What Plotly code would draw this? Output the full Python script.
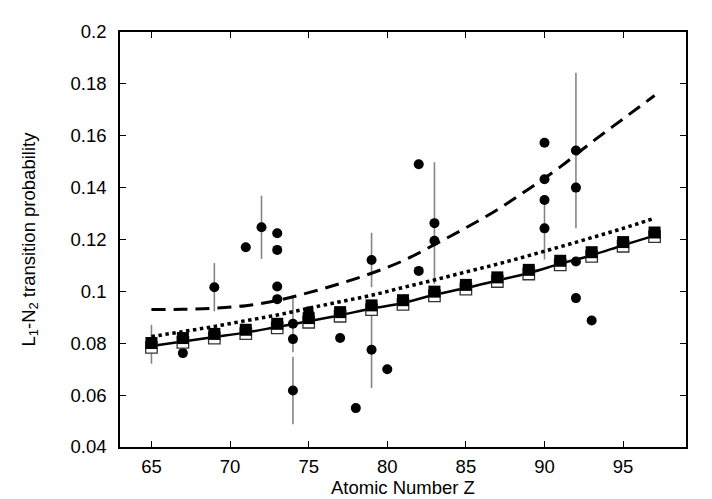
import plotly.graph_objects as go

# Experimental data (filled circles with error bars)
exp_z = [65, 67, 69, 71, 72, 73, 73, 73, 73, 74, 74, 74, 75, 77, 78, 79, 79, 80,
         82, 82, 83, 83, 90, 90, 90, 90, 92, 92, 92, 92, 93]
exp_y = [0.0796, 0.0762, 0.1016, 0.1170, 0.1247, 0.1224, 0.1160, 0.1019, 0.0970,
         0.0875, 0.0816, 0.0618, 0.0923, 0.0820, 0.0550, 0.1121, 0.0775, 0.0700,
         0.1490, 0.1079, 0.1263, 0.1195, 0.1573, 0.1432, 0.1352, 0.1243,
         0.1543, 0.1400, 0.1115, 0.0974, 0.0888]
exp_err = [0.0075, 0, 0.0093, 0, 0.0122, 0, 0, 0, 0,
           0.0110, 0, 0.0130, 0, 0, 0, 0.0105, 0.0148, 0,
           0, 0, 0.0235, 0, 0, 0, 0, 0.0120,
           0.0300, 0, 0, 0, 0]

# Theory at odd Z
theo_z = [65, 67, 69, 71, 73, 75, 77, 79, 81, 83, 85, 87, 89, 91, 93, 95, 97]
filled_sq = [0.0801, 0.0820, 0.0836, 0.0852, 0.0875, 0.0897, 0.0920, 0.0946, 0.0966,
             0.0999, 0.1025, 0.1054, 0.1083, 0.1118, 0.1151, 0.1190, 0.1227]
open_sq = [0.0784, 0.0803, 0.0820, 0.0837, 0.0859, 0.0881, 0.0904, 0.0930, 0.0950,
           0.0983, 0.1009, 0.1038, 0.1067, 0.1102, 0.1135, 0.1174, 0.1211]
solid_line = [0.0789, 0.0807, 0.0824, 0.0841, 0.0863, 0.0885, 0.0908, 0.0934, 0.0955,
              0.0987, 0.1013, 0.1042, 0.1071, 0.1106, 0.1139, 0.1178, 0.1215]
dotted_line = [0.0826, 0.0845, 0.0865, 0.0887, 0.0909, 0.0935, 0.0960, 0.0985, 0.1015,
               0.1044, 0.1075, 0.1105, 0.1138, 0.1172, 0.1207, 0.1243, 0.1282]
dashed_line = [0.0930, 0.0931, 0.0935, 0.0945, 0.0965, 0.0995, 0.1030, 0.1070, 0.1118,
               0.1180, 0.1245, 0.1315, 0.1395, 0.1480, 0.1575, 0.1665, 0.1755]

x_ticks = [65, 70, 75, 80, 85, 90, 95]
y_ticks = [0.04, 0.06, 0.08, 0.1, 0.12, 0.14, 0.16, 0.18, 0.2]
x_title = "Atomic Number Z"
y_title = "L<sub>1</sub>-N<sub>2</sub> transition probability"

FONT = "Liberation Sans, Arial, Helvetica, sans-serif"
FS = 18.5

fig = go.Figure()

fig.add_trace(go.Scatter(
    x=exp_z, y=exp_y, mode="markers",
    marker=dict(symbol="circle", size=10, color="black"),
    error_y=dict(type="data", array=exp_err, visible=True, width=0,
                 thickness=1.6, color="#858585"),
    showlegend=False))

fig.add_trace(go.Scatter(
    x=theo_z, y=dashed_line, mode="lines", line_shape="spline",
    line=dict(color="black", width=3, dash="14px,8px"), showlegend=False))

fig.add_trace(go.Scatter(
    x=theo_z, y=dotted_line, mode="lines", line_shape="spline",
    line=dict(color="black", width=3.5, dash="3.5px,3.5px"), showlegend=False))

fig.add_trace(go.Scatter(
    x=theo_z, y=solid_line, mode="lines", line_shape="spline",
    line=dict(color="black", width=2.5), showlegend=False))

fig.add_trace(go.Scatter(
    x=theo_z, y=open_sq, mode="markers",
    marker=dict(symbol="square", size=11.5, color="white",
                line=dict(color="#333333", width=1.3)),
    showlegend=False))

fig.add_trace(go.Scatter(
    x=theo_z, y=filled_sq, mode="markers",
    marker=dict(symbol="square", size=12, color="black"),
    showlegend=False))

axis_common = dict(showline=True, linecolor="black", linewidth=1.6, mirror="ticks",
                   ticks="inside", ticklen=6, tickwidth=1.2, tickcolor="black",
                   showgrid=False, zeroline=False,
                   tickfont=dict(family=FONT, size=FS, color="black"))

fig.update_xaxes(range=[63, 99], tickvals=x_ticks, ticktext=[str(v) for v in x_ticks],
                 ticklabelstandoff=2, **axis_common)
fig.update_yaxes(range=[0.04, 0.2], tickvals=y_ticks,
                 ticktext=[("%g" % v) for v in y_ticks],
                 ticklabelstandoff=8, **axis_common)

PLOT_W = 712 - 112 - 34
PLOT_H = 499 - 24 - 60

fig.add_annotation(text=x_title, xref="paper", yref="paper",
                   x=0.5, y=-(479 - 439) / PLOT_H, xanchor="center", yanchor="middle",
                   showarrow=False, font=dict(family=FONT, size=FS, color="black"))
fig.add_annotation(text=y_title, xref="paper", yref="paper",
                   x=(21 - 112) / PLOT_W, y=0.5, xanchor="center", yanchor="middle",
                   textangle=-90, showarrow=False,
                   font=dict(family=FONT, size=FS, color="black"))

fig.update_layout(width=712, height=499,
                  margin=dict(l=112, r=34, t=24, b=60),
                  plot_bgcolor="white", paper_bgcolor="white")

fig.write_html("out.html")
